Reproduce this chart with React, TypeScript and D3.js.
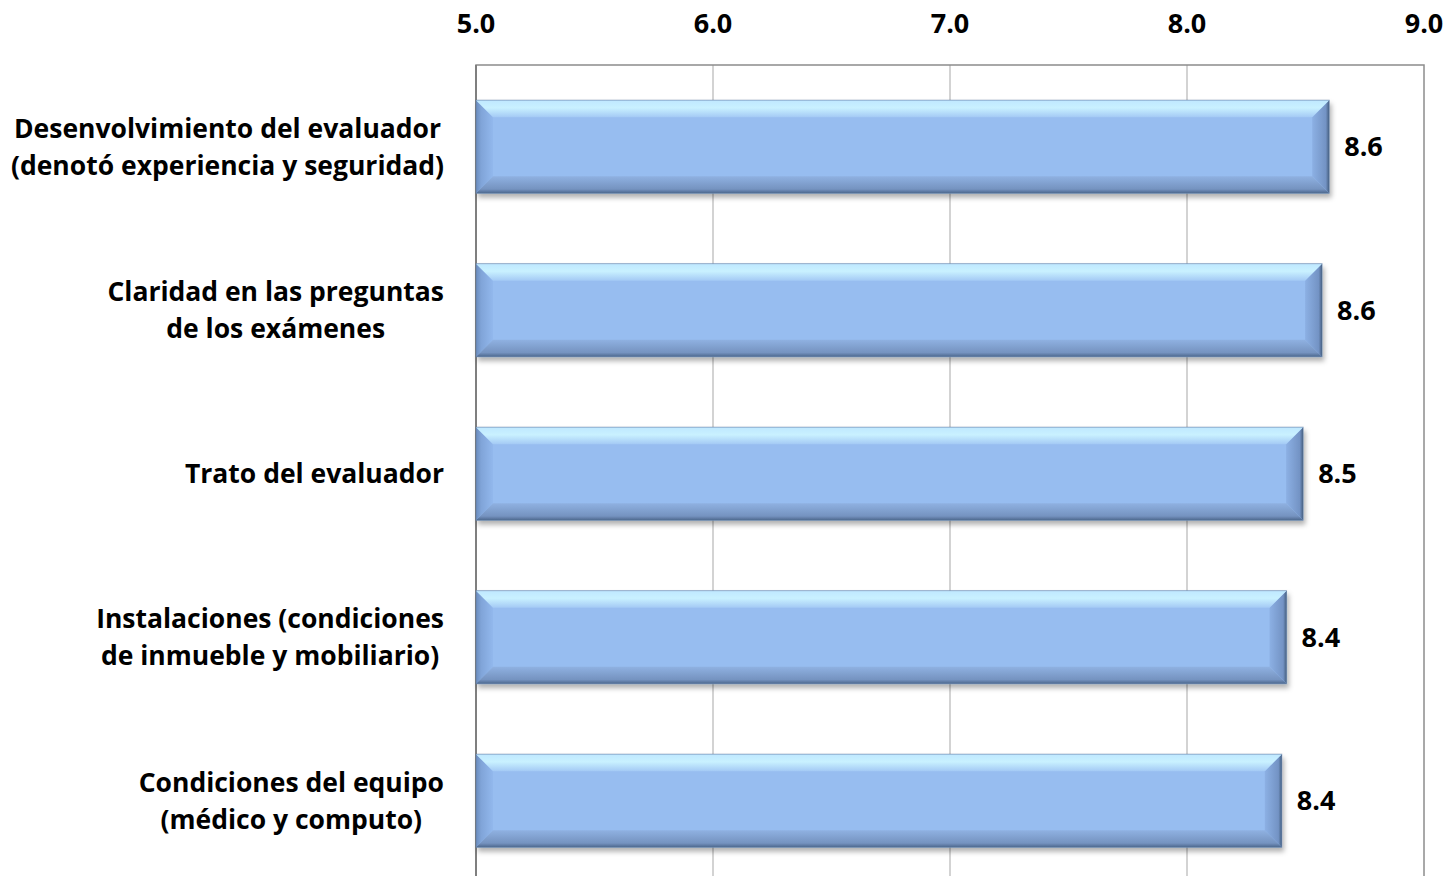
import * as d3 from "d3";
import { useEffect, useRef } from "react";

const categories = [
  ["Desenvolvimiento del evaluador", "(denotó experiencia y seguridad)"],
  ["Claridad en las preguntas", "de los exámenes"],
  ["Trato del evaluador"],
  ["Instalaciones (condiciones", "de inmueble y mobiliario)"],
  ["Condiciones del equipo", "(médico y computo)"],
];
const values = [8.6, 8.57, 8.49, 8.42, 8.4];
const valueLabels = ["8.6", "8.6", "8.5", "8.4", "8.4"];
const xTicks = [5, 6, 7, 8, 9];

const WIDTH = 1450;
const HEIGHT = 876;
const FONT = "'Open Sans', Lato, sans-serif";

const drawChart = (svgElement: SVGSVGElement) => {
  const svg = d3.select(svgElement);
  svg.selectAll("*").remove();

  const margin = { top: 65, left: 476, right: 26 };
  const plotWidth = WIDTH - margin.left - margin.right;
  const plotHeight = 5 * 163.5;

  const x = d3.scaleLinear().domain([5, 9]).range([0, plotWidth]);
  const y = d3
    .scaleBand<number>()
    .domain(d3.range(categories.length))
    .range([0, plotHeight])
    .paddingInner(0.43)
    .paddingOuter(0.215);

  const defs = svg.append("defs");
  const grad = (id: string, stops: [number, string][], vertical: boolean) => {
    const g = defs
      .append("linearGradient")
      .attr("id", id)
      .attr("x1", 0)
      .attr("y1", 0)
      .attr("x2", vertical ? 0 : 1)
      .attr("y2", vertical ? 1 : 0);
    stops.forEach(([o, c]) => g.append("stop").attr("offset", o).attr("stop-color", c));
  };
  grad("bevel-top", [[0, "#bfe8ff"], [0.45, "#c9f1ff"], [1, "#a4caf5"]], true);
  grad("bevel-bottom", [[0, "#8fb1e1"], [0.75, "#7593c0"], [1, "#4b668c"]], true);
  grad("bevel-left", [[0, "#6a8cbd"], [0.3, "#80a4d8"], [1, "#92b8ed"]], false);
  grad("bevel-right", [[0, "#8cb0e4"], [0.8, "#7393c4"], [1, "#465f80"]], false);

  const shadow = defs
    .append("filter")
    .attr("id", "bar-shadow")
    .attr("x", "-5%")
    .attr("y", "-20%")
    .attr("width", "110%")
    .attr("height", "150%");
  shadow
    .append("feDropShadow")
    .attr("dx", 2)
    .attr("dy", 4)
    .attr("stdDeviation", 2.5)
    .attr("flood-color", "#000")
    .attr("flood-opacity", 0.3);

  const root = svg.append("g").attr("transform", `translate(${margin.left},${margin.top})`);

  // gridlines
  root
    .selectAll("line.grid")
    .data(xTicks.slice(1, -1))
    .join("line")
    .attr("class", "grid")
    .attr("x1", (d) => x(d))
    .attr("x2", (d) => x(d))
    .attr("y1", 0)
    .attr("y2", plotHeight)
    .attr("stroke", "#c4c4c4")
    .attr("stroke-width", 1.5);

  // plot border
  root
    .append("rect")
    .attr("x", 0)
    .attr("y", 0)
    .attr("width", plotWidth)
    .attr("height", plotHeight)
    .attr("fill", "none")
    .attr("stroke", "#8c8c8c")
    .attr("stroke-width", 1.5);
  root
    .append("line")
    .attr("x1", 0)
    .attr("x2", 0)
    .attr("y1", 0)
    .attr("y2", plotHeight)
    .attr("stroke", "#7f7f7f")
    .attr("stroke-width", 2);

  // top axis labels
  root
    .selectAll("text.tick")
    .data(xTicks)
    .join("text")
    .attr("class", "tick")
    .attr("x", (d) => x(d))
    .attr("y", 33 - margin.top)
    .attr("text-anchor", "middle")
    .style("font-family", FONT)
    .style("font-weight", 700)
    .style("font-size", "27px")
    .text((d) => d.toFixed(1));

  const b = 17;
  const bars = root
    .selectAll("g.bar")
    .data(values)
    .join("g")
    .attr("class", "bar")
    .attr("filter", "url(#bar-shadow)");

  bars.each(function (v, i) {
    const g = d3.select(this);
    const x0 = x(5);
    const x1 = x(v);
    const y0 = y(i) ?? 0;
    const h = y.bandwidth();
    const y1 = y0 + h;
    g.append("rect")
      .attr("x", x0)
      .attr("y", y0)
      .attr("width", x1 - x0)
      .attr("height", h)
      .attr("fill", "#97bdf0");
    const poly = (pts: [number, number][], fill: string) =>
      g.append("polygon").attr("points", pts.map((p) => p.join(",")).join(" ")).attr("fill", fill);
    poly([[x0, y0], [x0 + b, y0 + b], [x0 + b, y1 - b], [x0, y1]], "url(#bevel-left)");
    poly([[x1, y0], [x1 - b, y0 + b], [x1 - b, y1 - b], [x1, y1]], "url(#bevel-right)");
    poly([[x0, y0], [x1, y0], [x1 - b, y0 + b], [x0 + b, y0 + b]], "url(#bevel-top)");
    poly([[x0, y1], [x1, y1], [x1 - b, y1 - b], [x0 + b, y1 - b]], "url(#bevel-bottom)");
    g.append("rect")
      .attr("x", x0)
      .attr("y", y0)
      .attr("width", x1 - x0)
      .attr("height", h)
      .attr("fill", "none")
      .attr("stroke", "#5a7599")
      .attr("stroke-opacity", 0.5)
      .attr("stroke-width", 1);
  });

  // value labels
  root
    .selectAll("text.value")
    .data(values)
    .join("text")
    .attr("class", "value")
    .attr("x", (v) => x(v) + 15)
    .attr("y", (_, i) => (y(i) ?? 0) + y.bandwidth() / 2)
    .attr("dy", "0.35em")
    .style("font-family", FONT)
    .style("font-weight", 700)
    .style("font-size", "27px")
    .text((_, i) => valueLabels[i]);

  // category labels: centered lines, block right-aligned
  const labelRight = -32;
  const lineGap = 37;
  categories.forEach((lines, i) => {
    const cy = (y(i) ?? 0) + y.bandwidth() / 2;
    const text = root
      .append("text")
      .style("font-family", FONT)
      .style("font-weight", 700)
      .style("font-size", "26.5px")
      .attr("text-anchor", "middle");
    const spans = lines.map((line, j) =>
      text
        .append("tspan")
        .attr("y", cy + (j - (lines.length - 1) / 2) * lineGap)
        .attr("dy", "0.35em")
        .text(line)
    );
    const maxW = d3.max(spans, (s) => (s.node() as SVGTSpanElement).getComputedTextLength()) ?? 0;
    spans.forEach((s) => s.attr("x", labelRight - maxW / 2));
  });
};

const App = () => {
  const svgRef = useRef<SVGSVGElement | null>(null);

  useEffect(() => {
    document.body.style.margin = "0";
    if (svgRef.current) drawChart(svgRef.current);
  }, []);

  return (
    <svg
      ref={svgRef}
      width={WIDTH}
      height={HEIGHT}
      style={{ display: "block", background: "white" }}
    />
  );
};

export default App;
